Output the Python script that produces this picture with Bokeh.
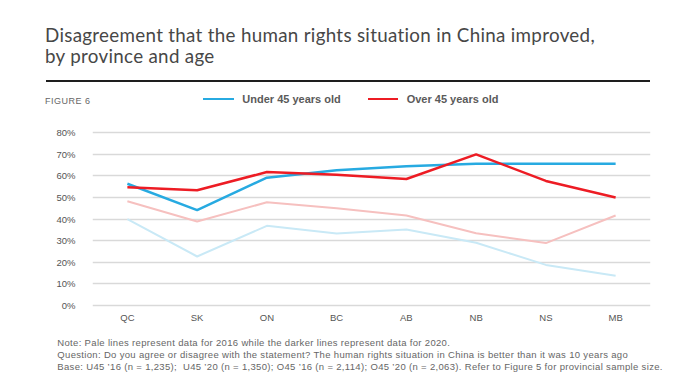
from bokeh.plotting import figure
from bokeh.models import FactorRange, Range1d, FixedTicker, PrintfTickFormatter, Div
from bokeh.layouts import column
from bokeh.embed import file_html
from bokeh.resources import INLINE

provinces = ["QC", "SK", "ON", "BC", "AB", "NB", "NS", "MB"]
u45_2020 = [56.4, 44.2, 59.2, 62.6, 64.5, 65.7, 65.7, 65.7]
o45_2020 = [54.8, 53.4, 61.8, 60.6, 58.6, 70.0, 57.7, 50.0]
u45_2016 = [40.0, 22.7, 36.9, 33.4, 35.2, 29.1, 18.8, 13.8]
o45_2016 = [48.3, 38.9, 47.8, 45.0, 41.7, 33.5, 28.9, 41.7]
y_ticks = [0, 10, 20, 30, 40, 50, 60, 70, 80]

title_lines = ["Disagreement that the human rights situation in China improved,",
               "by province and age"]
figure_label = "FIGURE 6"
legend_labels = ["Under 45 years old", "Over 45 years old"]
notes = [
    "Note: Pale lines represent data for 2016 while the darker lines represent data for 2020.",
    "Question: Do you agree or disagree with the statement? The human rights situation in China is better than it was 10 years ago",
    "Base: U45 \u201916 (n = 1,235);&nbsp; U45 \u201920 (n = 1,350); O45 \u201916 (n = 2,114); O45 \u201920 (n = 2,063). Refer to Figure 5 for provincial sample size.",
]

BLUE = "#27aae1"
RED = "#ed1c24"
PALE_BLUE = "#c9e9f6"
PALE_RED = "#f6c0bf"
TXT = "#555555"

# ---- header (title, rule, figure number, legend) ----
def abs_div(left, top, inner, style=""):
    return (f'<div style="position:absolute;left:{left}px;top:{top}px;white-space:nowrap;{style}">'
            f'{inner}</div>')

header_html = '<div style="position:relative;width:700px;height:112px;">'
header_html += abs_div(45, 24.4, "<br>".join(title_lines),
                       "font-family:Lato;font-size:18.8px;line-height:21px;letter-spacing:0.3px;color:#474747;")
header_html += abs_div(46, 80, "", "width:604px;height:1.5px;background:#1e1e1e;")
header_html += abs_div(45, 97.4, figure_label,
                       "font-family:'Liberation Sans';font-size:9px;line-height:9px;letter-spacing:0.5px;color:#666666;")
leg_style = "font-family:'Liberation Sans';font-size:11px;line-height:11px;font-weight:bold;color:#5a5a5a;"
header_html += abs_div(203, 97.5, "", f"width:30.6px;height:2.5px;background:{BLUE};")
header_html += abs_div(242.3, 94.4, legend_labels[0], leg_style)
header_html += abs_div(367.7, 97.5, "", f"width:30.6px;height:2.5px;background:{RED};")
header_html += abs_div(406.7, 94.4, legend_labels[1], leg_style)
header_html += '</div>'
header = Div(text=header_html, width=700, height=112, margin=0)

# ---- chart ----
p = figure(width=700, height=223, output_backend="svg", toolbar_location=None,
           x_range=FactorRange(factors=provinces, range_padding=0),
           y_range=Range1d(-2.31, 83.37),
           min_border_left=92, min_border_right=50, min_border_top=13, min_border_bottom=25)
p.outline_line_color = None
p.background_fill_color = "white"
p.border_fill_color = "white"

p.xgrid.grid_line_color = None
p.ygrid.grid_line_color = "#d9d9d9"
p.ygrid.grid_line_width = 1.5

p.yaxis.ticker = FixedTicker(ticks=y_ticks)
p.yaxis.formatter = PrintfTickFormatter(format="%d%%")
for ax in (p.xaxis[0], p.yaxis[0]):
    ax.axis_line_color = None
    ax.major_tick_line_color = None
    ax.minor_tick_line_color = None
    ax.major_tick_out = 0
    ax.major_tick_in = 0
    ax.minor_tick_out = 0
    ax.minor_tick_in = 0
    ax.major_label_text_font = "Liberation Sans"
    ax.major_label_text_font_size = "9.5px"
    ax.major_label_text_color = TXT
p.yaxis.major_label_standoff = 17
p.xaxis.major_label_standoff = 1

p.line(provinces, u45_2016, line_color=PALE_BLUE, line_width=2)
p.line(provinces, o45_2016, line_color=PALE_RED, line_width=2)
p.line(provinces, u45_2020, line_color=BLUE, line_width=2.5)
p.line(provinces, o45_2020, line_color=RED, line_width=2.5)

# ---- footer notes ----
footer_html = '<div style="position:relative;width:700px;height:54px;">'
footer_html += abs_div(57.3, 2.3, "<br>".join(notes),
                       "font-family:'Liberation Sans';font-size:9.5px;line-height:11.65px;letter-spacing:0.33px;color:#666666;")
footer_html += '</div>'
footer = Div(text=footer_html, width=700, height=54, margin=0)

layout = column(header, p, footer, spacing=0)
open("out.html", "w").write(file_html(layout, INLINE))
